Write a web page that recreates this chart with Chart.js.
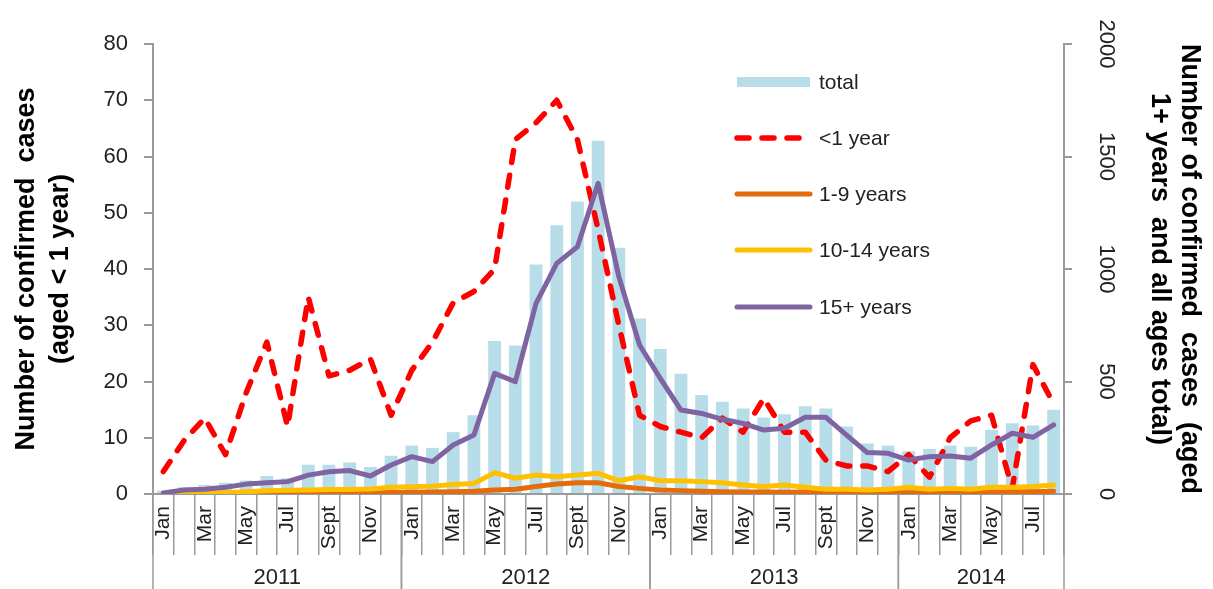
<!DOCTYPE html>
<html>
<head>
<meta charset="utf-8">
<script src="https://cdn.jsdelivr.net/npm/chart.js@4.4.1/dist/chart.umd.min.js"></script>
<style>
  html, body { margin: 0; padding: 0; background: #fff; }
  #wrap { width: 1213px; height: 589px; }
</style>
</head>
<body>
<div id="wrap"><canvas id="casesChart" width="1213" height="589"></canvas></div>
<script>
// months Jan 2011 - Aug 2014
const monthNames = ['Jan', 'Feb', 'Mar', 'Apr', 'May', 'Jun', 'Jul', 'Aug', 'Sept', 'Oct', 'Nov', 'Dec'];
const years = ['2011', '2012', '2013', '2014'];
const monthsPerYear = [12, 12, 12, 8];

// total, all ages (right axis)
const totalCases = [
  15, 30, 40, 50, 60, 80, 70, 130, 130, 140, 120, 170,
  215, 205, 275, 350, 680, 660, 1020, 1195, 1300, 1570, 1095, 780,
  645, 535, 440, 410, 380, 340, 355, 390, 380, 300, 225, 215,
  190, 200, 215, 210, 285, 315, 305, 375
];
// <1 year (left axis)
const under1 = [
  4, 9.5, 13.5, 7, 18, 27, 12, 35, 21, 22, 24, 14,
  22, 27, 34, 36, 40, 63, 66, 70, 63, 47, 30, 14,
  12, 11, 10, 13.5, 11, 17, 11, 11, 6, 5, 5, 4,
  7, 3, 10, 13, 14, 1, 23, 16
];
// 1-9 years (right axis)
const age1to9 = [
  1, 2, 2, 3, 3, 4, 4, 5, 5, 6, 6, 7,
  8, 9, 10, 12, 18, 21, 33, 44, 50, 50, 33, 25,
  18, 15, 12, 10, 9, 9, 8, 9, 8, 8, 7, 7,
  6, 7, 7, 8, 9, 10, 10, 12
];
// 10-14 years (right axis)
const age10to14 = [
  0, 2, 4, 6, 10, 14, 17, 18, 20, 20, 22, 30,
  32, 35, 42, 47, 95, 70, 84, 77, 84, 92, 59, 77,
  59, 59, 55, 50, 40, 33, 40, 30, 21, 21, 18, 21,
  30, 21, 25, 21, 30, 30, 33, 40
];
// 15+ years (right axis)
const age15plus = [
  5, 18, 21, 30, 44, 50, 55, 84, 99, 104, 80, 129,
  166, 144, 218, 262, 536, 499, 847, 1025, 1099, 1381, 966, 662,
  514, 373, 358, 332, 314, 284, 292, 341, 341, 262, 184, 181,
  151, 166, 169, 159, 218, 270, 252, 307
];

const labels = [];
monthsPerYear.forEach(function (n) {
  for (let m = 0; m < n; m++) labels.push(monthNames[m]);
});

const FONT = "'Liberation Sans', Arial, sans-serif";
const AXIS_GREY = '#9a9a9a';

// year row under the month labels
const yearRowPlugin = {
  id: 'yearRow',
  afterDraw: function (chart) {
    const ctx = chart.ctx;
    const xs = chart.scales.x;
    const half = (xs.getPixelForValue(1) - xs.getPixelForValue(0)) / 2;
    const top = chart.chartArea.bottom;
    const bottom = chart.height;
    ctx.save();
    ctx.strokeStyle = AXIS_GREY;
    ctx.lineWidth = 1.5;
    ctx.fillStyle = '#222';
    ctx.font = '22px ' + FONT;
    ctx.textAlign = 'center';
    ctx.textBaseline = 'middle';
    let start = 0;
    monthsPerYear.forEach(function (n, i) {
      const x0 = xs.getPixelForValue(start) - half;
      const x1 = xs.getPixelForValue(start + n - 1) + half;
      ctx.beginPath();
      ctx.moveTo(x0, top);
      ctx.lineTo(x0, bottom);
      ctx.moveTo(x1, top);
      ctx.lineTo(x1, bottom);
      ctx.stroke();
      ctx.fillText(years[i], (x0 + x1) / 2, 578);
      start += n;
    });
    ctx.restore();
  }
};

// legend drawn inside the plot, stacked vertically
const innerLegendPlugin = {
  id: 'innerLegend',
  afterDatasetsDraw: function (chart) {
    const ctx = chart.ctx;
    const rows = [82, 138, 194, 250, 307];
    ctx.save();
    chart.data.datasets.forEach(function (ds, i) {
      const y = rows[i];
      if (ds.type === 'bar') {
        ctx.fillStyle = ds.backgroundColor;
        ctx.fillRect(737, y - 5, 73, 10);
      } else {
        ctx.strokeStyle = ds.borderColor;
        ctx.lineWidth = ds.borderWidth;
        ctx.lineCap = 'round';
        ctx.setLineDash(ds.borderDash || []);
        ctx.beginPath();
        ctx.moveTo(737, y);
        ctx.lineTo(810, y);
        ctx.stroke();
        ctx.setLineDash([]);
      }
      ctx.fillStyle = '#222';
      ctx.font = '21px ' + FONT;
      ctx.textAlign = 'left';
      ctx.textBaseline = 'middle';
      ctx.fillText(ds.label, 819, y + 1);
    });
    ctx.restore();
  }
};

const lineBase = {
  type: 'line',
  yAxisID: 'y2',
  borderWidth: 5,
  tension: 0,
  pointRadius: 0,
  fill: false,
  borderJoinStyle: 'round',
  borderCapStyle: 'round'
};

new Chart(document.getElementById('casesChart'), {
  data: {
    labels: labels,
    datasets: [
      {
        type: 'bar',
        label: 'total',
        data: totalCases,
        yAxisID: 'y2',
        backgroundColor: '#b7dde8',
        barPercentage: 0.62,
        categoryPercentage: 1.0,
        order: 5
      },
      Object.assign({}, lineBase, {
        label: '<1 year',
        data: under1,
        yAxisID: 'y',
        borderColor: '#ff0000',
        borderWidth: 5.5,
        borderDash: [12, 13],
        order: 4
      }),
      Object.assign({}, lineBase, {
        label: '1-9 years',
        data: age1to9,
        borderColor: '#e46c0a',
        order: 3
      }),
      Object.assign({}, lineBase, {
        label: '10-14 years',
        data: age10to14,
        borderColor: '#ffc000',
        order: 2
      }),
      Object.assign({}, lineBase, {
        label: '15+ years',
        data: age15plus,
        borderColor: '#8064a2',
        order: 1
      })
    ]
  },
  options: {
    responsive: false,
    animation: false,
    layout: { padding: { top: 44, left: 0, right: 0, bottom: 0 } },
    plugins: {
      legend: { display: false },
      tooltip: { enabled: false }
    },
    scales: {
      x: {
        type: 'category',
        offset: true,
        grid: {
          offset: true,
          drawOnChartArea: false,
          drawTicks: true,
          tickLength: 61,
          color: AXIS_GREY,
          lineWidth: 1.5
        },
        border: { color: AXIS_GREY, width: 2 },
        ticks: {
          autoSkip: false,
          minRotation: 90,
          maxRotation: 90,
          padding: -49,
          color: '#222',
          font: { family: FONT, size: 21 },
          callback: function (value, index) {
            return index % 2 === 0 ? labels[index] : '';
          }
        },
        afterFit: function (scale) { scale.height = 95; }
      },
      y: {
        position: 'left',
        min: 0,
        max: 80,
        grid: {
          drawOnChartArea: false,
          drawTicks: true,
          tickLength: 9,
          color: AXIS_GREY,
          lineWidth: 2
        },
        border: { color: AXIS_GREY, width: 2 },
        ticks: {
          stepSize: 10,
          padding: 16,
          color: '#222',
          font: { family: FONT, size: 22 }
        },
        title: {
          display: true,
          text: ['Number of confirmed  cases', '(aged < 1 year)'],
          color: '#000',
          font: { family: FONT, size: 27, weight: 'bold', lineHeight: 1.26 },
          padding: { top: 10, bottom: 0 }
        },
        afterFit: function (scale) { scale.width = 153; }
      },
      y2: {
        position: 'right',
        min: 0,
        max: 2000,
        grid: {
          drawOnChartArea: false,
          drawTicks: true,
          tickLength: 8,
          color: AXIS_GREY,
          lineWidth: 2
        },
        border: { color: AXIS_GREY, width: 2 },
        ticks: {
          stepSize: 500,
          minRotation: -90,
          maxRotation: -90,
          crossAlign: 'center',
          padding: 10,
          color: '#222',
          font: { family: FONT, size: 22 },
          callback: function (value) { return String(value); }
        },
        title: {
          display: true,
          text: ['Number of confirmed  cases  (aged', '1+ years  and all ages total)'],
          color: '#000',
          font: { family: FONT, size: 27, weight: 'bold', lineHeight: 1.1 },
          padding: { top: 9, bottom: 0 }
        },
        afterFit: function (scale) { scale.width = 149; }
      }
    }
  },
  plugins: [yearRowPlugin, innerLegendPlugin]
});
</script>
</body>
</html>
